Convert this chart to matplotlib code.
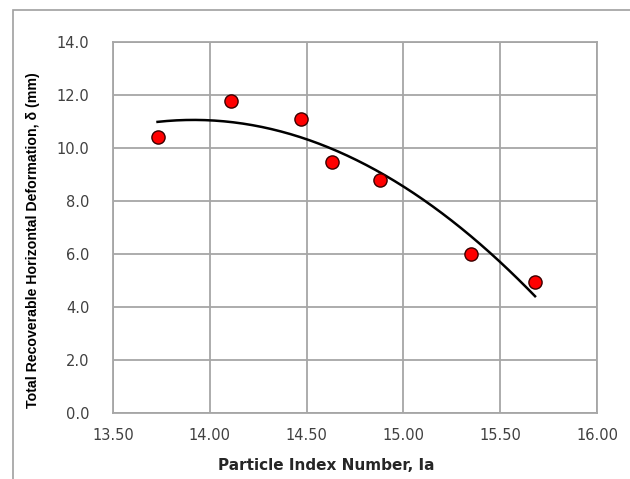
import numpy as np
import matplotlib
matplotlib.use("Agg")
import matplotlib.pyplot as plt
from matplotlib.patches import Rectangle

particle_index = [13.73, 14.11, 14.47, 14.63, 14.88, 15.35, 15.68]
deformation = [10.42, 11.77, 11.09, 9.47, 8.79, 6.00, 4.94]
x_ticks = [13.5, 14.0, 14.5, 15.0, 15.5, 16.0]
y_ticks = [0, 2, 4, 6, 8, 10, 12, 14]

W, H = 630, 479
fig = plt.figure(figsize=(W/100, H/100), dpi=100)
ax = fig.add_axes([113/W, 1-413/H, (597-113)/W, (413-42)/H])

# chart outer border
fig.patches.append(Rectangle((13/W, -0.1), 1.2, (1-10/H)+0.1, transform=fig.transFigure,
                             fill=False, edgecolor="#a0a0a0", linewidth=1.2))

grid_c = "#a6a6a6"
ax.set_xlim(13.5, 16.0)
ax.set_ylim(0, 14)
ax.set_xticks(x_ticks)
ax.set_yticks(y_ticks)
ax.set_xticklabels([f"{v:.2f}" for v in x_ticks])
ax.set_yticklabels([f"{v:.1f}" for v in y_ticks])
ax.grid(True, color=grid_c, linewidth=1.3)
ax.set_axisbelow(True)
for s in ax.spines.values():
    s.set_color(grid_c)
    s.set_linewidth(1.3)
ax.tick_params(axis="both", length=0, labelsize=10.5, colors="#404040")
ax.tick_params(axis="y", pad=17)
ax.tick_params(axis="x", pad=11)

coef = np.polyfit(particle_index, deformation, 2)
xs = np.linspace(min(particle_index), max(particle_index), 200)
ax.plot(xs, np.polyval(coef, xs), color="black", linewidth=1.8, zorder=3)

ax.plot(particle_index, deformation, linestyle="none", marker="o", markersize=9.5,
        markerfacecolor="#ff0000", markeredgecolor="#3a0000", markeredgewidth=1.0, zorder=4)

ax.set_xlabel("Particle Index Number, Ia", fontsize=11, fontweight="bold",
              color="#262626")
ax.xaxis.set_label_coords((326-113)/484, -(465-413)/371)
ax.set_ylabel("Total Recoverable Horizontal Deformation, δ (mm)", fontsize=10.2,
              fontweight="bold", family="Liberation Sans", color="black")
ax.yaxis.set_label_coords(-(113-33)/484, (413-240)/371)
ax.xaxis.label.set_va("center")
ax.yaxis.label.set_va("center")

fig.savefig("out.png", dpi=100)
